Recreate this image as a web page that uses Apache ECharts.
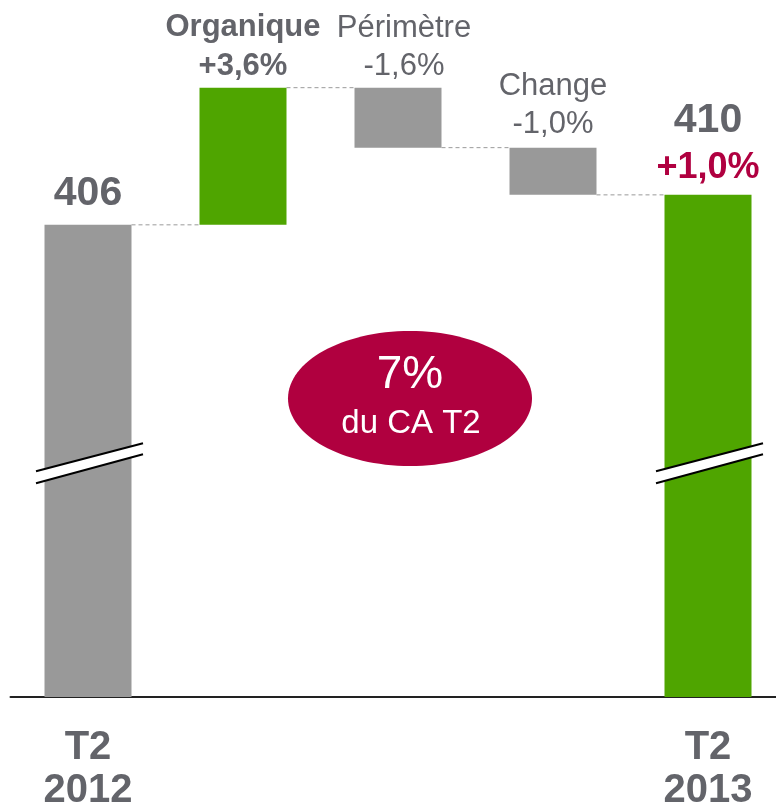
<!DOCTYPE html>
<html>
<head>
<meta charset="utf-8">
<script src="https://cdn.jsdelivr.net/npm/echarts@6/dist/echarts.min.js"></script>
<style>
  html, body { margin: 0; padding: 0; background: #fff; }
  #chart { width: 776px; height: 810px; }
</style>
</head>
<body>
<div id="chart"></div>
<script>
// categories and tick labels
const categories = ['T2 2012', 'Organique', 'Périmètre', 'Change', 'T2 2013'];
const tickLabels = ['T2\n2012', '', '', '', 'T2\n2013'];

// broken axis: levels
const totals = [406, '-', '-', '-', 410];
const floatBase = ['-', 406, 416.3, 410, '-'];
const floatSize = ['-', 18.3, 8.0, 6.3, '-'];
const connectorLevels = [406, 424.3, 416.3, 410];
const breakLevel = 374.2;

// label texts
const stepNames = ['', 'Organique', 'Périmètre', 'Change', ''];
const stepChanges = ['', '+3,6%', '-1,6%', '-1,0%', ''];
const totalValues = ['406', '', '', '', '410'];
const totalChange = '+1,0%';

const GRAY = '#999999';
const GREEN = '#4fa500';
const RED = '#b00040';
const TEXT = '#63646a';
const BAR_W = 87;
const FONT = '"Liberation Sans", Arial, sans-serif';

const totalColors = [GRAY, null, null, null, GREEN];
const stepColors = [null, GREEN, GRAY, GRAY, null];

const chart = echarts.init(document.getElementById('chart'), null, { renderer: 'canvas' });

const rich = {
  big: { fontSize: 41, fontWeight: 'bold', color: TEXT, lineHeight: 50, fontFamily: FONT },
  red: { fontSize: 36, fontWeight: 'bold', color: RED, lineHeight: 44, fontFamily: FONT },
  b: { fontSize: 31, fontWeight: 'bold', color: TEXT, lineHeight: 39, fontFamily: FONT },
  n: { fontSize: 31, color: TEXT, lineHeight: 38, fontFamily: FONT }
};

const option = {
  animation: false,
  backgroundColor: '#fff',
  textStyle: { fontFamily: FONT },
  grid: { left: 10.5, width: 775, top: 0, height: 697, outerBoundsMode: 'none', containLabel: false },
  xAxis: {
    type: 'category',
    data: categories,
    axisLine: { lineStyle: { color: '#222', width: 2 } },
    axisTick: { show: false },
    axisLabel: {
      interval: 0,
      formatter: (v, i) => tickLabels[i],
      fontSize: 40,
      fontWeight: 'bold',
      color: TEXT,
      lineHeight: 43,
      margin: 29,
      fontFamily: FONT
    }
  },
  yAxis: { type: 'value', min: 343, max: 436, show: false },
  series: [
    {
      name: 'total',
      type: 'bar',
      barWidth: BAR_W,
      barGap: '-100%',
      data: totals.map((v, i) => v === '-' ? '-' : {
        value: v,
        itemStyle: { color: totalColors[i] },
        label: {
          show: true,
          position: 'top',
          distance: i === 0 ? 6 : 5,
          formatter: i === 0 ? '{big|' + totalValues[i] + '}' : '{big|' + totalValues[i] + '}\n{red|' + totalChange + '}',
          rich: rich
        }
      }),
      z: 2
    },
    {
      name: 'base',
      type: 'bar',
      stack: 'w',
      barWidth: BAR_W,
      itemStyle: { color: 'transparent' },
      data: floatBase,
      silent: true
    },
    {
      name: 'step',
      type: 'bar',
      stack: 'w',
      barWidth: BAR_W,
      data: floatSize.map((v, i) => v === '-' ? '-' : {
        value: v,
        itemStyle: { color: stepColors[i] },
        label: {
          show: true,
          position: 'top',
          distance: i === 3 ? 4 : 2,
          offset: i === 2 ? [6, 0] : [0, 0],
          formatter: i === 1
            ? '{b|' + stepNames[i] + '}\n{b|' + stepChanges[i] + '}'
            : '{n|' + stepNames[i] + '}\n{n|' + stepChanges[i] + '}',
          rich: rich
        }
      }),
      z: 2
    },
    {
      name: 'connectors',
      type: 'custom',
      data: connectorLevels.map((v, i) => [i, v]),
      renderItem: (params, api) => {
        const p = api.coord([api.value(0), api.value(1)]);
        const w = api.size([1, 0])[0];
        return {
          type: 'line',
          shape: { x1: p[0] + BAR_W / 2, y1: p[1], x2: p[0] + w - BAR_W / 2, y2: p[1] },
          style: { stroke: '#9a9a9a', lineWidth: 1, lineDash: [4, 3] }
        };
      },
      z: 1
    },
    {
      name: 'breaks',
      type: 'custom',
      data: [[0, breakLevel], [4, breakLevel]],
      renderItem: (params, api) => {
        const p = api.coord([api.value(0), api.value(1)]);
        const x = p[0], y = p[1];
        const a = [x - 52, y + 8], b = [x + 55, y - 20], c = [x + 55, y - 9], d = [x - 52, y + 20];
        return {
          type: 'group',
          children: [
            { type: 'polygon', shape: { points: [a, b, c, d] }, style: { fill: '#fff' } },
            { type: 'line', shape: { x1: a[0], y1: a[1], x2: b[0], y2: b[1] }, style: { stroke: '#000', lineWidth: 2 } },
            { type: 'line', shape: { x1: d[0], y1: d[1], x2: c[0], y2: c[1] }, style: { stroke: '#000', lineWidth: 2 } }
          ]
        };
      },
      z: 5
    }
  ],
  graphic: [
    {
      type: 'ellipse',
      shape: { cx: 410, cy: 398.5, rx: 122, ry: 67.5 },
      style: { fill: '#b0003f' },
      z: 10
    },
    {
      type: 'text',
      x: 410, y: 375,
      style: { text: '7%', fill: '#fff', font: '46px ' + FONT, textAlign: 'center', textVerticalAlign: 'middle' },
      z: 11
    },
    {
      type: 'text',
      x: 411, y: 424,
      style: { text: 'du CA T2', fill: '#fff', font: '33px ' + FONT, textAlign: 'center', textVerticalAlign: 'middle' },
      z: 11
    }
  ]
};

chart.setOption(option);
</script>
</body>
</html>
